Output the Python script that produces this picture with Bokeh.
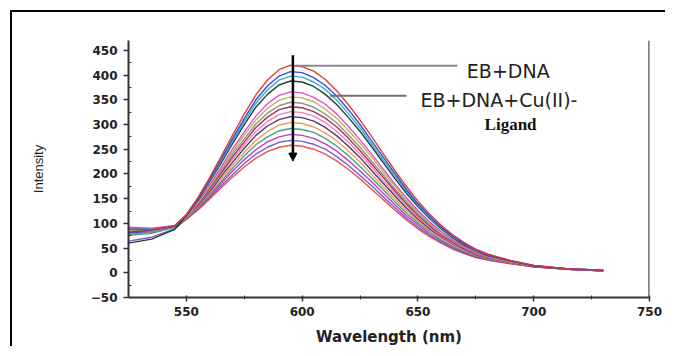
from bokeh.plotting import figure
from bokeh.models import Range1d, FixedTicker, Label, Arrow, NormalHead, Span
from bokeh.embed import file_html
from bokeh.resources import INLINE

# ---- data ----
wavelength = [525, 535, 545, 550, 555, 560, 565, 570, 575, 580, 585, 590, 595,
              600, 605, 610, 615, 620, 625, 630, 635, 640, 645, 650, 655, 660,
              665, 670, 675, 680, 690, 700, 715, 730]

c1 = [88, 87, 95, 118, 152, 192, 235, 279, 321, 360, 390, 411, 420, 417, 408, 391, 368, 340, 309, 276, 241, 207, 175, 145, 119, 96, 77, 61, 48, 38, 25, 15, 8, 5]
c2 = [82, 86, 94, 117, 150, 189, 230, 272, 312, 350, 378, 398, 407, 405, 395, 379, 357, 330, 300, 267, 234, 201, 169, 140, 115, 93, 75, 59, 47, 37, 24, 15, 8, 5]
c3 = [90, 88, 95, 117, 149, 186, 226, 267, 306, 343, 370, 390, 398, 396, 386, 371, 349, 322, 293, 261, 228, 196, 166, 137, 112, 91, 73, 58, 46, 36, 24, 15, 8, 5]
c4 = [60, 68, 88, 116, 147, 184, 222, 262, 300, 335, 361, 380, 388, 386, 377, 361, 340, 314, 286, 255, 223, 191, 161, 134, 110, 89, 71, 56, 45, 35, 24, 14, 8, 5]
c5 = [92, 90, 96, 115, 144, 178, 214, 251, 285, 317, 342, 359, 366, 364, 355, 341, 321, 296, 269, 240, 210, 180, 152, 126, 103, 84, 67, 53, 42, 34, 23, 14, 8, 5]
c6 = [84, 85, 94, 114, 142, 175, 210, 245, 279, 309, 333, 349, 356, 354, 346, 331, 312, 288, 262, 234, 204, 176, 148, 123, 101, 82, 66, 52, 41, 33, 22, 14, 8, 5]
c7 = [78, 82, 93, 113, 140, 172, 206, 240, 271, 301, 323, 338, 345, 343, 335, 321, 303, 279, 254, 226, 198, 170, 144, 119, 98, 79, 64, 51, 40, 32, 22, 14, 8, 5]
c8 = [88, 87, 95, 113, 139, 170, 202, 235, 265, 294, 315, 330, 336, 334, 326, 313, 295, 272, 247, 220, 193, 166, 140, 116, 95, 77, 62, 49, 39, 32, 21, 13, 7, 4]
c9 = [86, 86, 94, 112, 138, 167, 199, 230, 259, 286, 306, 320, 326, 324, 317, 304, 286, 264, 240, 214, 187, 161, 136, 112, 92, 75, 60, 48, 38, 31, 21, 13, 7, 4]
c10 = [80, 83, 93, 112, 136, 164, 195, 224, 252, 278, 297, 310, 316, 314, 307, 294, 277, 256, 233, 207, 181, 156, 131, 109, 89, 73, 59, 47, 37, 30, 21, 13, 7, 4]
c11 = [84, 85, 94, 111, 134, 161, 190, 218, 244, 268, 286, 299, 304, 302, 295, 283, 267, 246, 224, 199, 174, 150, 126, 105, 86, 70, 57, 45, 36, 29, 20, 13, 7, 4]
c12 = [76, 80, 92, 110, 132, 158, 185, 212, 237, 259, 275, 287, 292, 290, 284, 272, 256, 237, 215, 192, 168, 144, 121, 101, 83, 67, 54, 43, 35, 28, 20, 13, 7, 4]
c13 = [90, 88, 95, 109, 130, 155, 181, 206, 229, 249, 265, 275, 280, 278, 272, 261, 246, 227, 206, 184, 161, 138, 116, 97, 79, 65, 52, 42, 34, 27, 19, 12, 7, 4]
c14 = [64, 72, 89, 109, 129, 152, 176, 199, 221, 240, 254, 264, 268, 266, 260, 250, 235, 217, 197, 176, 154, 132, 111, 92, 76, 62, 50, 40, 32, 26, 19, 12, 7, 4]
c15 = [86, 84, 93, 108, 127, 149, 172, 194, 214, 232, 245, 254, 258, 256, 250, 240, 226, 209, 190, 169, 148, 127, 107, 89, 73, 60, 48, 39, 31, 26, 18, 12, 7, 4]

curves = [c1, c2, c3, c4, c5, c6, c7, c8, c9, c10, c11, c12, c13, c14, c15]
colors = ["#e8302c", "#2a44dc", "#2fa6c4", "#0f3a2a", "#e040e0", "#bdb43c",
          "#8c8c8c", "#a02848", "#f078b4", "#4a2a6e", "#f0984c", "#3c9c84",
          "#c030c0", "#7452c4", "#ee4a44"]

x_ticks = [550, 600, 650, 700, 750]
x_minor = [575, 625, 675, 725]
y_ticks = [-50, 0, 50, 100, 150, 200, 250, 300, 350, 400, 450]
y_minor = [-25, 25, 75, 125, 175, 225, 275, 325, 375, 425]

# ---- figure ----
p = figure(width=655, height=336, output_backend="svg", toolbar_location=None,
           x_range=Range1d(525, 750), y_range=Range1d(-50, 470),
           min_border_left=116, min_border_right=18, min_border_top=28,
           min_border_bottom=51)
p.styles = {"border-left": "2px solid black", "border-top": "2px solid black",
            "margin-left": "10px", "margin-top": "10px"}
p.outline_line_color = None
p.xgrid.visible = False
p.ygrid.visible = False
p.background_fill_color = "white"
p.border_fill_color = "white"

for c, col in zip(curves[::-1], colors[::-1]):
    p.line(wavelength, c, line_color=col, line_width=1.4, line_alpha=0.95)

# axes
p.xaxis.ticker = FixedTicker(ticks=x_ticks, minor_ticks=x_minor)
p.yaxis.ticker = FixedTicker(ticks=y_ticks, minor_ticks=y_minor)
for ax in (p.xaxis, p.yaxis):
    ax.axis_line_width = 2
    ax.axis_line_color = "#333333"
    ax.major_tick_line_color = "#333333"
    ax.minor_tick_line_color = "#333333"
    ax.major_tick_line_width = 1.5
    ax.major_label_text_font = "DejaVu Sans"
    ax.major_label_text_font_style = "bold"
    ax.major_label_text_font_size = "12px"
    ax.major_label_text_color = "#222222"

p.xaxis.major_tick_out = 4
p.xaxis.major_tick_in = 2
p.xaxis.minor_tick_out = 2
p.xaxis.minor_tick_in = 2
p.xaxis.major_label_standoff = 5
p.xaxis.axis_label = "Wavelength (nm)"
p.xaxis.axis_label_text_font = "DejaVu Sans"
p.xaxis.axis_label_text_font_style = "bold"
p.xaxis.axis_label_text_font_size = "15px"
p.xaxis.axis_label_text_color = "#222222"
p.xaxis.axis_label_standoff = 9

p.yaxis.major_tick_out = 5
p.yaxis.major_tick_in = 0
p.yaxis.minor_tick_out = 0
p.yaxis.minor_tick_in = 3
p.yaxis.major_label_standoff = 6
p.yaxis.axis_label = "Intensity"
p.yaxis.axis_label_text_font = "Liberation Sans"
p.yaxis.axis_label_text_font_style = "normal"
p.yaxis.axis_label_text_font_size = "13px"
p.yaxis.axis_label_text_color = "#222222"
p.yaxis.axis_label_standoff = 42

# right frame line
p.add_layout(Span(location=750, dimension="height", line_color="#555555", line_width=2.5))

# arrow showing decrease
p.add_layout(Arrow(end=NormalHead(size=8, fill_color="black", line_color="black"),
                   x_start=596, y_start=440, x_end=596, y_end=226,
                   line_width=2.5, line_color="black"))

# leader lines
p.add_layout(Arrow(end=None, x_start=597, y_start=419, x_end=667, y_end=419,
                   line_color="#8a8a8a", line_width=2))
p.add_layout(Arrow(end=None, x_start=612, y_start=358, x_end=645, y_end=358,
                   line_color="#707070", line_width=2))

# labels
p.add_layout(Label(x=689, y=409, text="EB+DNA", text_align="center",
                   text_baseline="middle", text_font="DejaVu Sans",
                   text_font_size="19px", text_color="#222222"))
p.add_layout(Label(x=685, y=350, text="EB+DNA+Cu(II)-", text_align="center",
                   text_baseline="middle", text_font="DejaVu Sans",
                   text_font_size="19px", text_color="#222222"))
p.add_layout(Label(x=690, y=300, text="Ligand", text_align="center",
                   text_baseline="middle", text_font="Liberation Serif",
                   text_font_style="bold", text_font_size="17px",
                   text_color="#111111"))

open("out.html", "w").write(file_html(p, INLINE))
